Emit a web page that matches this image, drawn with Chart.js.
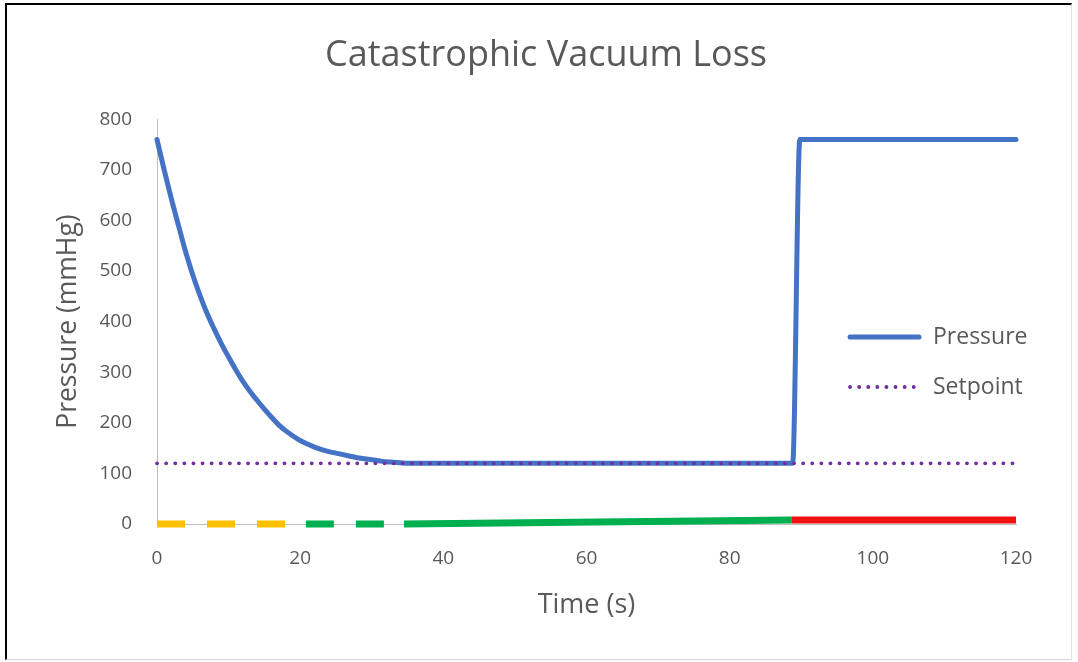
<!DOCTYPE html>
<html>
<head>
<meta charset="utf-8">
<script src="https://cdn.jsdelivr.net/npm/chart.js@4/dist/chart.umd.min.js"></script>
<style>
  html, body { margin: 0; padding: 0; background: #ffffff; }
  #frame {
    position: absolute; left: 5px; top: 3px; width: 1067px; height: 657px;
    border-left: 2px solid #000; border-top: 2px solid #000;
    border-right: 1px solid #e2e2e2; border-bottom: 1px solid #d6d6d6;
    box-sizing: border-box;
  }
  #wrap { position: absolute; left: 0; top: 0; width: 1078px; height: 662px; }
</style>
</head>
<body>
<div id="frame"></div>
<div id="wrap"><canvas id="c" width="1078" height="662"></canvas></div>
<script>
// ---- data ----
const timeS = [0,1,2,3,4,5,6,7,8,9,10,11,12,13,14,15,16,17,18,19,20,21,22,23,24,25,26,27,28,29,30,31,32,33,34,35,88.8,89.8,120];
const pressure = [760,700,643,590,538,492,452,416,385,356,330,305,282,262,244,227,211,196,184,174,165,158,152,147,143,140,137,134,131,129,127,125,123,122,121,120,120,760,760];
const setpointT = [0, 120];
const setpointV = [120, 120];
const yellowT = [0, 20.8];
const yellowV = [0, 0];
const greenDashT = [20.8, 34.5];
const greenDashV = [0, 0];
const greenT = [34.5, 88.7];
const greenV = [0, 8];
const redT = [88.7, 120];
const redV = [8, 8];
const xTicks = [0, 20, 40, 60, 80, 100, 120];
const yTicks = [0, 100, 200, 300, 400, 500, 600, 700, 800];

const pts = (xs, ys) => xs.map((x, i) => ({x: x, y: ys[i]}));

const TXT = '#595959';
const FONT = '"Open Sans"';

const sideLegend = {
  id: 'sideLegend',
  afterDraw(chart) {
    const ctx = chart.ctx;
    const entries = [
      {i: 0, y: 337},
      {i: 1, y: 387}
    ];
    ctx.save();
    entries.forEach(e => {
      const ds = chart.data.datasets[e.i];
      ctx.beginPath();
      ctx.strokeStyle = ds.borderColor;
      ctx.lineWidth = ds.borderWidth;
      ctx.lineCap = ds.borderCapStyle || 'round';
      ctx.setLineDash(ds.borderDash || []);
      ctx.moveTo(850, e.y);
      ctx.lineTo(919, e.y);
      ctx.stroke();
      ctx.setLineDash([]);
      ctx.fillStyle = TXT;
      ctx.font = '23px ' + FONT;
      ctx.textBaseline = 'middle';
      ctx.textAlign = 'left';
      ctx.fillText(ds.label, 933, e.y);
    });
    ctx.restore();
  }
};

new Chart(document.getElementById('c'), {
  type: 'line',
  data: {
    datasets: [
      { label: 'Pressure', data: pts(timeS, pressure), borderColor: '#4472C4', borderWidth: 5,
        borderCapStyle: 'round', borderJoinStyle: 'round', pointRadius: 0, cubicInterpolationMode: 'monotone',
        order: 2, clip: false },
      { label: 'Setpoint', data: pts(setpointT, setpointV), borderColor: '#7030A0', borderWidth: 3.8,
        borderDash: [0.1, 9], borderCapStyle: 'round', pointRadius: 0, order: 1, clip: false },
      { label: 'idle', data: pts(yellowT, yellowV), borderColor: '#FFC000', borderWidth: 7,
        borderDash: [28, 22], borderCapStyle: 'butt', pointRadius: 0, order: 3, clip: false },
      { label: 'pumping', data: pts(greenDashT, greenDashV), borderColor: '#00B050', borderWidth: 7,
        borderDash: [28, 22], borderCapStyle: 'butt', pointRadius: 0, order: 3, clip: false },
      { label: 'holding', data: pts(greenT, greenV), borderColor: '#00B050', borderWidth: 7,
        borderCapStyle: 'butt', pointRadius: 0, order: 3, clip: false },
      { label: 'loss', data: pts(redT, redV), borderColor: '#F01010', borderWidth: 7,
        borderCapStyle: 'butt', pointRadius: 0, order: 3, clip: false }
    ]
  },
  options: {
    responsive: false,
    animation: false,
    events: [],
    layout: { padding: { left: 76, right: 62, top: 0, bottom: 0 } },
    plugins: {
      legend: { display: false },
      tooltip: { enabled: false },
      title: {
        display: true,
        text: 'Catastrophic Vacuum Loss',
        color: TXT,
        font: { family: FONT, size: 36, weight: 'normal' },
        padding: { top: 34, bottom: 42 }
      }
    },
    scales: {
      x: {
        type: 'linear', min: 0, max: 120,
        afterBuildTicks: s => { s.ticks = xTicks.map(v => ({value: v})); },
        afterFit: s => { s.height = 138; },
        grid: { display: false, drawTicks: false },
        border: { display: true, color: '#BFBFBF', width: 1 },
        ticks: { color: TXT, font: { family: FONT, size: 19 }, padding: 23, maxRotation: 0 },
        title: { display: true, text: 'Time (s)', color: TXT, font: { family: FONT, size: 27 }, padding: { top: 0, bottom: 40 } }
      },
      y: {
        type: 'linear', min: 0, max: 800,
        afterBuildTicks: s => { s.ticks = yTicks.map(v => ({value: v})); },
        afterFit: s => { s.width = 81; },
        grid: { display: false, drawTicks: false },
        border: { display: true, color: '#BFBFBF', width: 1 },
        ticks: { color: TXT, font: { family: FONT, size: 19 }, padding: 25 },
        title: { display: true, text: 'Pressure (mmHg)', color: TXT, font: { family: FONT, size: 26.5 }, padding: { top: -23, bottom: 0 } }
      }
    }
  },
  plugins: [sideLegend]
});
</script>
</body>
</html>
